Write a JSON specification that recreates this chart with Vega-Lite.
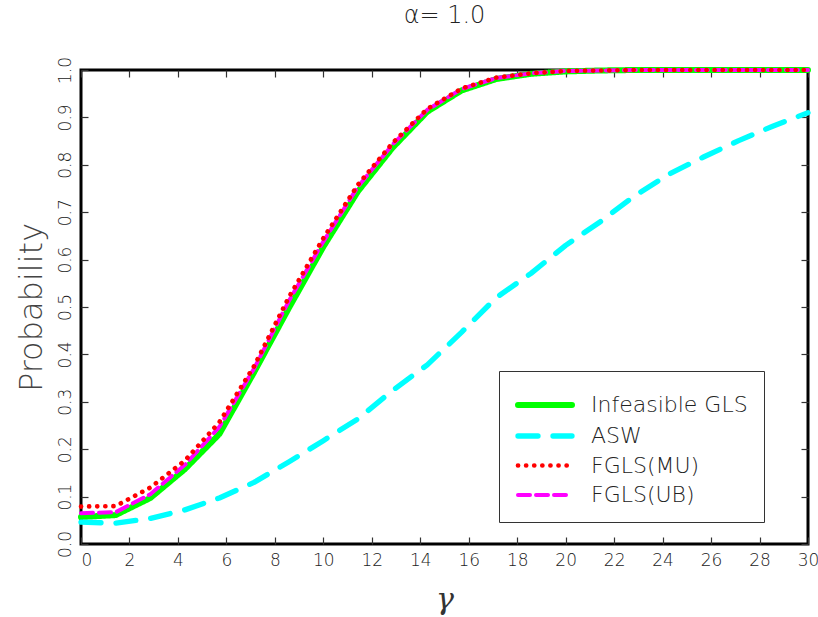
{
  "$schema": "https://vega.github.io/schema/vega-lite/v6.json",
  "width": 727,
  "height": 474,
  "autosize": "none",
  "padding": {"left": 81, "top": 70, "right": 10, "bottom": 73},
  "background": "white",
  "title": {"text": "α= 1.0", "fontSize": 24, "font": "DejaVu Sans", "fontWeight": 200, "color": "#222", "anchor": "middle", "offset": 28},
  "config": {
    "view": {"stroke": "black", "strokeWidth": 3},
    "legend": {
      "orient": "none", "legendX": 418, "legendY": 301, "strokeColor": "#333", "fillColor": "white",
      "padding": 16, "symbolType": "M-1,0H2.6", "symbolSize": 900, "symbolStrokeWidth": 5,
      "labelFont": "DejaVu Sans", "labelFontWeight": 200, "labelFontSize": 22, "labelColor": "#222",
      "labelOffset": 40, "rowPadding": 1
    }
  },
  "data": {"values": [
    {"g":0,"p":0.057,"s":"Infeasible GLS"},{"g":1.43,"p":0.061,"s":"Infeasible GLS"},{"g":2.86,"p":0.097,"s":"Infeasible GLS"},{"g":4.29,"p":0.158,"s":"Infeasible GLS"},{"g":5.71,"p":0.232,"s":"Infeasible GLS"},{"g":7.14,"p":0.362,"s":"Infeasible GLS"},{"g":8.57,"p":0.497,"s":"Infeasible GLS"},{"g":10,"p":0.627,"s":"Infeasible GLS"},{"g":11.43,"p":0.744,"s":"Infeasible GLS"},{"g":12.86,"p":0.836,"s":"Infeasible GLS"},{"g":14.29,"p":0.912,"s":"Infeasible GLS"},{"g":15.71,"p":0.957,"s":"Infeasible GLS"},{"g":17.14,"p":0.981,"s":"Infeasible GLS"},{"g":18.57,"p":0.992,"s":"Infeasible GLS"},{"g":20,"p":0.997,"s":"Infeasible GLS"},{"g":21.43,"p":0.999,"s":"Infeasible GLS"},{"g":22.86,"p":1.0,"s":"Infeasible GLS"},{"g":24.29,"p":1.0,"s":"Infeasible GLS"},{"g":25.71,"p":1.0,"s":"Infeasible GLS"},{"g":27.14,"p":1.0,"s":"Infeasible GLS"},{"g":28.57,"p":1.0,"s":"Infeasible GLS"},{"g":30,"p":1.0,"s":"Infeasible GLS"},
    {"g":0,"p":0.046,"s":"ASW"},{"g":1.43,"p":0.044,"s":"ASW"},{"g":2.86,"p":0.054,"s":"ASW"},{"g":4.29,"p":0.072,"s":"ASW"},{"g":5.71,"p":0.097,"s":"ASW"},{"g":7.14,"p":0.130,"s":"ASW"},{"g":8.57,"p":0.173,"s":"ASW"},{"g":10,"p":0.218,"s":"ASW"},{"g":11.43,"p":0.264,"s":"ASW"},{"g":12.86,"p":0.324,"s":"ASW"},{"g":14.29,"p":0.378,"s":"ASW"},{"g":15.71,"p":0.447,"s":"ASW"},{"g":17.14,"p":0.520,"s":"ASW"},{"g":18.57,"p":0.571,"s":"ASW"},{"g":20,"p":0.630,"s":"ASW"},{"g":21.43,"p":0.680,"s":"ASW"},{"g":22.86,"p":0.735,"s":"ASW"},{"g":24.29,"p":0.781,"s":"ASW"},{"g":25.71,"p":0.817,"s":"ASW"},{"g":27.14,"p":0.851,"s":"ASW"},{"g":28.57,"p":0.882,"s":"ASW"},{"g":30,"p":0.910,"s":"ASW"},
    {"g":0,"p":0.065,"s":"FGLS(UB)"},{"g":1.43,"p":0.067,"s":"FGLS(UB)"},{"g":2.86,"p":0.105,"s":"FGLS(UB)"},{"g":4.29,"p":0.167,"s":"FGLS(UB)"},{"g":5.71,"p":0.247,"s":"FGLS(UB)"},{"g":7.14,"p":0.370,"s":"FGLS(UB)"},{"g":8.57,"p":0.512,"s":"FGLS(UB)"},{"g":10,"p":0.638,"s":"FGLS(UB)"},{"g":11.43,"p":0.754,"s":"FGLS(UB)"},{"g":12.86,"p":0.843,"s":"FGLS(UB)"},{"g":14.29,"p":0.916,"s":"FGLS(UB)"},{"g":15.71,"p":0.960,"s":"FGLS(UB)"},{"g":17.14,"p":0.983,"s":"FGLS(UB)"},{"g":18.57,"p":0.993,"s":"FGLS(UB)"},{"g":20,"p":0.998,"s":"FGLS(UB)"},{"g":21.43,"p":0.999,"s":"FGLS(UB)"},{"g":22.86,"p":1.0,"s":"FGLS(UB)"},{"g":24.29,"p":1.0,"s":"FGLS(UB)"},{"g":25.71,"p":1.0,"s":"FGLS(UB)"},{"g":27.14,"p":1.0,"s":"FGLS(UB)"},{"g":28.57,"p":1.0,"s":"FGLS(UB)"},{"g":30,"p":1.0,"s":"FGLS(UB)"},
    {"g":0,"p":0.079,"s":"FGLS(MU)"},{"g":1.43,"p":0.080,"s":"FGLS(MU)"},{"g":2.86,"p":0.119,"s":"FGLS(MU)"},{"g":4.29,"p":0.176,"s":"FGLS(MU)"},{"g":5.71,"p":0.257,"s":"FGLS(MU)"},{"g":7.14,"p":0.375,"s":"FGLS(MU)"},{"g":8.57,"p":0.520,"s":"FGLS(MU)"},{"g":10,"p":0.645,"s":"FGLS(MU)"},{"g":11.43,"p":0.758,"s":"FGLS(MU)"},{"g":12.86,"p":0.846,"s":"FGLS(MU)"},{"g":14.29,"p":0.918,"s":"FGLS(MU)"},{"g":15.71,"p":0.961,"s":"FGLS(MU)"},{"g":17.14,"p":0.984,"s":"FGLS(MU)"},{"g":18.57,"p":0.993,"s":"FGLS(MU)"},{"g":20,"p":0.998,"s":"FGLS(MU)"},{"g":21.43,"p":0.999,"s":"FGLS(MU)"},{"g":22.86,"p":1.0,"s":"FGLS(MU)"},{"g":24.29,"p":1.0,"s":"FGLS(MU)"},{"g":25.71,"p":1.0,"s":"FGLS(MU)"},{"g":27.14,"p":1.0,"s":"FGLS(MU)"},{"g":28.57,"p":1.0,"s":"FGLS(MU)"},{"g":30,"p":1.0,"s":"FGLS(MU)"}
  ]},
  "layer": [
    {
      "mark": {"type": "line", "strokeCap": "round", "strokeJoin": "round"},
      "encoding": {
        "x": {"field": "g", "type": "quantitative",
          "scale": {"domain": [0, 30], "nice": false, "zero": false},
          "axis": {"orient": "bottom", "values": [0,2,4,6,8,10,12,14,16,18,20,22,24,26,28,30], "domain": false, "grid": false,
            "tickSize": -7, "tickColor": "#333", "tickWidth": 1.2,
            "labelFont": "DejaVu Sans", "labelFontWeight": 200, "labelFontSize": 17, "labelColor": "#222", "labelPadding": 15,
            "labelAlign": {"condition": {"test": "datum.value == 0", "value": "left"}, "value": "center"},
            "title": "γ", "titleFont": "DejaVu Serif", "titleFontStyle": "italic", "titleFontWeight": "normal", "titleFontSize": 30, "titleColor": "#333", "titlePadding": 16}},
        "y": {"field": "p", "type": "quantitative",
          "scale": {"domain": [0, 1], "nice": false, "zero": false},
          "axis": {"orient": "left", "values": [0,0.1,0.2,0.3,0.4,0.5,0.6,0.7,0.8,0.9,1.0], "format": ".1f", "domain": false, "grid": false,
            "tickSize": -7, "tickColor": "#333", "tickWidth": 1.2,
            "labelFont": "DejaVu Sans", "labelFontWeight": 200, "labelFontSize": 17, "labelColor": "#222", "labelPadding": 14,
            "labelAngle": 270, "labelAlign": "center", "labelBaseline": "bottom",
            "title": "Probability", "titleFont": "DejaVu Sans", "titleFontWeight": 200, "titleFontSize": 32, "titleColor": "#444", "titlePadding": 8}},
        "color": {"field": "s", "type": "nominal", "title": null,
          "scale": {"domain": ["Infeasible GLS", "ASW", "FGLS(MU)", "FGLS(UB)"], "range": ["#00ff00", "#00ffff", "#ff0000", "#ff00ff"]},
          "legend": {"encode": {"symbols": {"update": {"strokeCap": {"value": "round"}}}}}},
        "strokeDash": {"field": "s", "type": "nominal", "title": null,
          "scale": {"domain": ["Infeasible GLS", "ASW", "FGLS(MU)", "FGLS(UB)"], "range": [[1, 0], [20, 15], [0.1, 8], [12, 6]]}},
        "strokeWidth": {"field": "s", "type": "nominal", "title": null,
          "scale": {"domain": ["Infeasible GLS", "ASW", "FGLS(MU)", "FGLS(UB)"], "range": [6, 4, 4.5, 4.5]}}
      }
    },
    {
      "mark": {"type": "point", "opacity": 0},
      "encoding": {
        "x": {"field": "g", "type": "quantitative",
          "axis": {"orient": "top", "values": [0,2,4,6,8,10,12,14,16,18,20,22,24,26,28,30], "labels": false, "domain": false, "grid": false,
            "tickSize": -7, "tickColor": "#333", "tickWidth": 1.2, "title": null}},
        "y": {"field": "p", "type": "quantitative",
          "axis": {"orient": "right", "values": [0,0.1,0.2,0.3,0.4,0.5,0.6,0.7,0.8,0.9,1.0], "labels": false, "domain": false, "grid": false,
            "tickSize": -7, "tickColor": "#333", "tickWidth": 1.2, "title": null}}
      }
    }
  ],
  "resolve": {"axis": {"x": "independent", "y": "independent"}}
}
